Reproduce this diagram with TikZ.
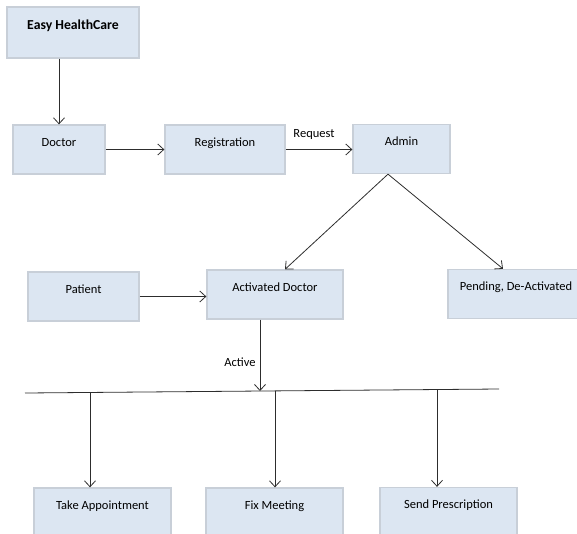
\documentclass[tikz,border=0pt]{standalone}
\usepackage{fontspec}
\setmainfont{Carlito}
\usepackage{tikz}
\usetikzlibrary{arrows.meta, positioning}
\definecolor{boxcolor}{RGB}{220, 230, 242}
\definecolor{bordercolor}{RGB}{200, 207, 216}
\definecolor{linkcolor}{RGB}{45, 45, 45}

\begin{document}
\begin{tikzpicture}[x=1pt, y=-1pt,
    box/.style={draw=bordercolor, line width=1.3pt, fill=boxcolor, inner sep=0pt,
        minimum height=49pt, text height=9pt, text depth=16pt,
        font=\fontsize{12.5}{15}\selectfont},
    link/.style={draw=linkcolor, line width=0.8pt, -{Straight Barb[length=6pt, width=11pt]}},
    tag/.style={font=\fontsize{12.5}{15}\selectfont}]
    \useasboundingbox (0, 0) rectangle (577, 533);

    % Top
    \node[box, minimum width=132pt, minimum height=51pt, font=\fontsize{13.7}{16}\selectfont\bfseries] (ehc) at (73, 32.5) {Easy HealthCare};

    % Row 1
    \node[box, minimum width=92pt] (doctor) at (59, 149.5) {Doctor};
    \node[box, minimum width=120pt] (reg) at (225, 149.5) {Registration};
    \node[box, minimum width=97pt] (admin) at (401.5, 149) {Admin};
    \node[tag] (request) at (314, 134) {Request};

    % Row 2
    \node[box, minimum width=111pt] (patient) at (83.5, 296.5) {Patient};
    \node[box, minimum width=136pt] (actdoc) at (275, 294.5) {Activated Doctor};
    \node[box, minimum width=136pt] (pending) at (516, 294) {Pending, De-Activated};
    \node[tag] (active) at (240, 362) {Active};

    % Row 3
    \node[box, minimum width=137pt] (takeapp) at (102.5, 512.5) {Take Appointment};
    \node[box, minimum width=137pt] (fixmeet) at (274.5, 512.5) {Fix Meeting};
    \node[box, minimum width=137pt] (sendpres) at (448.5, 512) {Send Prescription};

    % Bus line
    \coordinate (busL) at (25, 393);
    \coordinate (busR) at (499, 389);
    \coordinate (busin) at (260, 391);
    \coordinate (tapA) at (90, 392.5);
    \coordinate (tapB) at (275, 390.9);
    \coordinate (tapC) at (437, 389.5);
    \draw[draw=linkcolor, line width=0.8pt] (busL) -- (busR);

    % Links
    \draw[link] (ehc.south -| doctor.north) -- (doctor.north);
    \draw[link] (doctor.east) -- (reg.west);
    \draw[link] (reg.east) -- (admin.west |- reg.east);
    \draw[link] ([xshift=-13.5pt]admin.south) -- ([xshift=10pt]actdoc.north);
    \draw[link] ([xshift=-13.5pt]admin.south) -- ([xshift=-13pt]pending.north);
    \draw[link] (patient.east) -- (patient.east -| actdoc.west);
    \draw[link] ([xshift=-15pt]actdoc.south) -- (busin);
    \draw[link] (tapA) -- (tapA |- takeapp.north);
    \draw[link] (tapB) -- (tapB |- fixmeet.north);
    \draw[link] (tapC) -- (tapC |- sendpres.north);
\end{tikzpicture}
\end{document}
